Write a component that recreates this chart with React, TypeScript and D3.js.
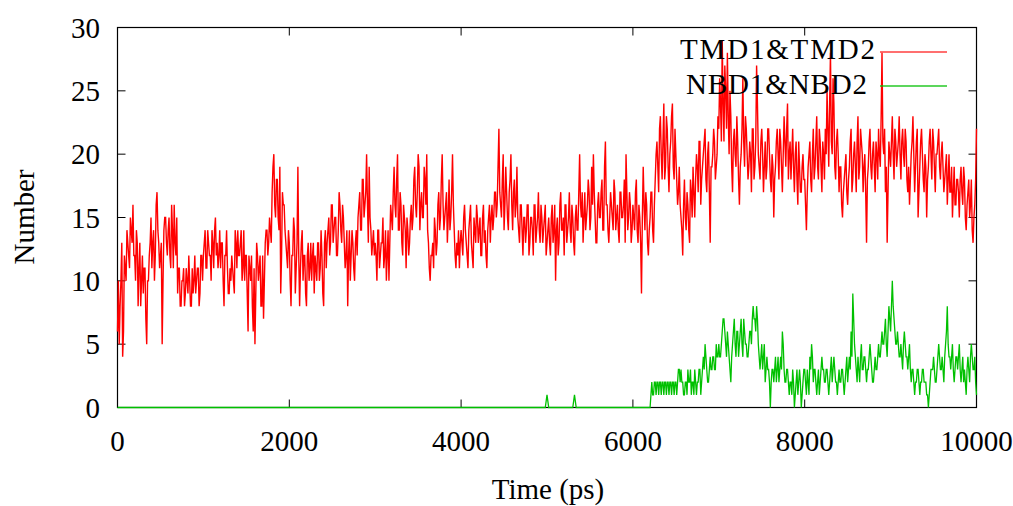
import React from "react";
import * as d3 from "d3";

const xTicks = [0, 2000, 4000, 6000, 8000, 10000];
const yTicks = [0, 5, 10, 15, 20, 25, 30];
const seriesNames = ["TMD1&TMD2", "NBD1&NBD2"];
const seriesColors = ["#ff0000", "#00c000"];
const STEP = 20;
const HALF = 10;

// TMD1&TMD2: values at t = 1000k + 20i (blocks of 1000 ps)
const tmd0 = [6,5,10,4,12,10,13,11,14,16,12,14,8,13,10,9,11,5,10,13,11,14,12,17,13,12,5,14,15,12,15,11,14,16,12,9,11,8,10,8,11,9,10,8,9,12,10,11,9,12];
const tmd1 = [12,14,11,13,12,14,11,15,13,12,11,13,8,12,11,9,10,11,9,13,14,12,14,11,10,12,6,11,12,6,5,13,10,12,8,7,13,14,13,14,17,20,15,18,14,9,17,16,13,11];
const tmd2 = [13,8,12,14,11,19,8,13,10,12,8,13,11,10,13,12,10,13,11,12,8,14,13,15,13,16,14,15,12,17,14,16,13,12,8,14,12,13,10,14,15,17,14,18,16,20,13,15,12,14];
const tmd3 = [13,10,14,12,13,11,14,12,10,16,14,19,15,20,14,16,12,15,11,14,13,16,15,19,15,20,14,17,15,18,20,13,10,12,11,14,13,17,15,20,14,16,13,18,15,20,14,11,12,11];
const tmd4 = [14,12,16,13,11,15,13,11,14,16,13,15,12,16,14,11,15,13,16,15,17,16,22,16,18,14,19,15,17,20,14,18,16,15,13,16,12,15,14,16,13,15,12,16,14,17,13,15,14,16];
const tmd5 = [13,15,12,16,14,10,15,13,17,14,12,16,14,17,13,15,12,16,14,20,15,13,17,15,18,14,19,20,15,13,17,15,18,14,21,16,13,17,15,18,14,16,13,17,15,18,20,14,17,13];
const tmd6 = [16,14,18,13,15,9,19,14,16,12,15,17,13,18,21,17,23,18,24,19,22,17,21,24,18,20,16,19,15,12,18,14,16,13,17,19,15,20,17,21,18,20,22,17,21,13,19,22,18,20];
const tmd7 = [22,24,29,21,25,28,20,23,17,22,19,21,16,20,26,19,22,18,21,17,22,19,27,20,18,22,17,21,19,22,18,20,15,19,22,18,21,17,23,19,24,20,18,22,17,21,16,19,17,20];
const tmd8 = [18,14,19,21,17,22,19,23,18,21,17,20,22,25,19,28,20,24,18,22,17,19,15,18,20,16,19,22,18,21,17,23,19,21,17,20,13,19,22,18,21,17,20,22,19,28,20,17,13,21];
const tmd9 = [19,23,18,21,20,23,18,22,19,21,17,16,20,23,17,21,15,19,22,18,20,15,19,22,18,21,17,20,22,18,21,17,19,16,20,17,15,19,16,18,15,19,16,18,14,17,15,18,13,16];
// TMD1&TMD2: values at t = 1000k + 10 + 20i
const tmdMid0 = [10,8,13,6,11,14,12,15,13,12,10,13,11,8,12,11,7,10,12,15,13,10,16,14,11,13,10,15,13,14,12,16,11,13,15,11,8,10,11,9,10,12,8,11,10,9,11,8,12,10];
const tmdMid1 = [13,11,14,12,10,13,14,12,11,14,13,10,12,14,9,11,12,10,14,11,12,13,10,14,12,9,12,10,8,11,9,12,11,8,12,10,14,12,15,13,19,16,18,15,19,12,16,14,12,14];
const tmdMid2 = [10,12,15,9,13,12,11,14,12,9,12,10,13,12,9,11,13,10,14,9,13,11,14,12,16,13,15,12,14,16,13,15,11,14,12,10,14,11,13,12,16,14,18,15,17,16,19,14,13,12];
const tmdMid3 = [12,14,11,13,15,12,10,14,13,15,17,16,18,14,17,13,16,14,15,12,15,14,18,16,17,19,16,15,19,16,14,11,12,13,15,12,16,14,18,16,15,17,15,14,17,16,12,13,14,13];
const tmdMid4 = [13,15,14,12,14,16,12,15,13,15,14,12,15,13,12,14,16,15,14,17,15,19,17,15,20,16,17,14,18,16,17,15,19,14,16,14,15,13,16,12,15,14,16,13,15,14,16,13,15,12];
const tmdMid5 = [14,13,15,13,16,14,12,16,14,15,16,13,15,14,16,13,15,14,17,16,17,15,14,16,17,15,16,17,13,16,15,17,14,19,16,14,15,16,14,17,15,14,17,15,16,13,17,15,16,14];
const tmdMid6 = [15,17,14,16,13,15,16,17,13,14,17,14,16,20,19,22,20,21,18,23,19,20,23,19,22,18,17,16,14,16,15,17,14,18,15,17,18,19,21,16,19,21,18,20,17,19,20,21,19,23];
const tmdMid7 = [26,21,24,27,22,23,25,19,21,20,23,18,19,22,21,23,20,19,20,22,18,21,24,19,21,20,19,18,22,20,17,19,18,21,20,22,19,20,21,22,18,21,20,19,20,18,21,17,19,18];
const tmdMid8 = [16,17,20,18,20,18,21,19,22,19,21,18,20,22,24,21,26,19,21,20,19,16,17,19,17,18,21,17,20,19,21,18,22,20,19,17,18,21,19,20,19,21,18,20,23,21,22,19,17,20];
const tmdMid9 = [21,20,22,19,21,20,21,20,22,18,19,18,21,20,19,22,17,21,20,17,19,18,21,20,22,19,20,21,19,20,19,18,20,18,17,19,17,16,18,17,18,17,19,15,16,18,16,14,15,18];
const tmdLast = 22; // at 10000 ps

// NBD1&NBD2: sparse early part, then values every 20 ps from 6220 ps (+ half-step values)
const nbdEarlyTimes = [0, 4980, 5000, 5020, 5300, 5320, 5340, 6200];
const nbdEarlyValues = [0, 0, 1, 0, 0, 1, 0, 0];
const nbdLateStart = 6220;
const nbdLate = [
  2,1,2,2,1,2,2,1,2,2,
  1,2,2,1,2,2,3,3,2,1,
  2,3,2,1,2,3,1,2,3,2,
  4,5,3,2,4,3,4,3,4,5,
  4,6,7,5,6,4,2,5,7,4,
  6,5,7,4,6,5,4,6,5,8,
  7,8,5,3,5,4,2,4,3,0,
  3,2,4,3,2,4,6,3,2,3,
  1,2,3,0,2,1,3,0,2,3,
  1,2,4,5,2,3,1,3,2,4,
  3,2,3,1,3,2,4,2,1,3,
  2,3,1,3,2,4,6,9,5,3,
  4,2,5,3,4,2,3,5,3,2,
  4,3,5,4,6,5,7,4,8,6,
  10,7,5,6,4,5,3,6,4,3,
  5,2,3,1,2,3,1,2,3,2,
  1,0,2,3,4,2,3,5,3,4,
  2,5,8,4,3,5,2,4,3,5,
  2,4,3,1,4,2,5,3,4,1
];
const nbdLateMid = [
  1,2,1,2,2,1,2,2,1,2,
  2,1,2,2,1,3,2,2,1,2,
  1,2,3,2,1,2,2,3,1,3,
  3,4,2,3,3,4,3,5,4,4,
  5,7,6,4,5,3,4,6,5,6,
  4,6,5,7,5,4,5,6,7,7,
  6,7,4,4,3,5,3,3,2,2,
  3,3,2,4,3,3,5,2,3,2,
  2,1,2,1,3,2,2,1,3,2,
  3,1,3,4,3,2,2,1,3,3,
  2,3,2,2,4,3,3,2,2,2,
  3,2,2,4,3,3,4,7,4,2,
  3,4,3,4,3,3,4,4,2,3,
  3,4,4,5,5,6,5,6,7,8,
  8,6,5,5,4,4,5,5,4,4,
  3,3,2,2,3,2,2,3,2,2,
  1,1,3,3,3,2,4,4,3,3,
  4,6,5,4,4,3,3,4,4,3,
  3,2,2,3,3,4,4,3,2
];

const FONT = "'Liberation Serif', 'Times New Roman', serif";

export default function App() {
  const W = 1013, H = 506;
  const L = 117.5, R = 976.5, T = 27.5, B = 407.5;
  const x = d3.scaleLinear().domain([0, 10000]).range([L, R]);
  const y = d3.scaleLinear().domain([0, 30]).range([B, T]);

  const main = [...tmd0, ...tmd1, ...tmd2, ...tmd3, ...tmd4, ...tmd5, ...tmd6, ...tmd7, ...tmd8, ...tmd9];
  const mid = [...tmdMid0, ...tmdMid1, ...tmdMid2, ...tmdMid3, ...tmdMid4, ...tmdMid5, ...tmdMid6, ...tmdMid7, ...tmdMid8, ...tmdMid9];
  const tmd: [number, number][] = [];
  main.forEach((v, i) => {
    tmd.push([i * STEP, v]);
    tmd.push([i * STEP + HALF, mid[i]]);
  });
  tmd.push([10000, tmdLast]);

  const nbd: [number, number][] = nbdEarlyTimes.map((t, i) => [t, nbdEarlyValues[i]] as [number, number]);
  nbdLate.forEach((v, i) => {
    nbd.push([nbdLateStart + i * STEP, v]);
    if (i < nbdLateMid.length) nbd.push([nbdLateStart + i * STEP + HALF, nbdLateMid[i]]);
  });

  const line = d3.line<[number, number]>().x(d => x(d[0])).y(d => y(d[1]));
  const tick = 8;

  return (
    <svg width={W} height={H} style={{ position: "fixed", left: 0, top: 0, background: "#fff" }}
      fontFamily={FONT}>
      <rect x={0} y={0} width={W} height={H} fill="#fff" />
      {yTicks.map(v => (
        <g key={"y" + v}>
          <line x1={L} x2={L + tick} y1={y(v)} y2={y(v)} stroke="#000" strokeWidth={1} />
          <line x1={R} x2={R - tick} y1={y(v)} y2={y(v)} stroke="#000" strokeWidth={1} />
          <text x={100} y={y(v) + 10} textAnchor="end" fontSize={29}>{v}</text>
        </g>
      ))}
      {xTicks.map(v => (
        <g key={"x" + v}>
          <line x1={x(v)} x2={x(v)} y1={B} y2={B - tick} stroke="#000" strokeWidth={1} />
          <line x1={x(v)} x2={x(v)} y1={T} y2={T + tick} stroke="#000" strokeWidth={1} />
          <text x={x(v)} y={451} textAnchor="middle" fontSize={29}>{v}</text>
        </g>
      ))}
      <rect x={L} y={T} width={R - L} height={B - T} fill="none" stroke="#000" strokeWidth={1.2} />
      <path d={line(tmd) || ""} fill="none" stroke={seriesColors[0]} strokeWidth={1.4} />
      <path d={line(nbd) || ""} fill="none" stroke={seriesColors[1]} strokeWidth={1.3} />
      <text x={680} y={59} fontSize={29} textLength={195} lengthAdjust="spacing">{seriesNames[0]}</text>
      <line x1={880} x2={947} y1={52} y2={52} stroke={seriesColors[0]} strokeWidth={1.5} opacity={0.75} />
      <text x={686} y={94} fontSize={29} textLength={181} lengthAdjust="spacing">{seriesNames[1]}</text>
      <line x1={880} x2={947} y1={86} y2={86} stroke={seriesColors[1]} strokeWidth={1.5} opacity={0.85} />
      <text x={548} y={499} textAnchor="middle" fontSize={29}>Time (ps)</text>
      <text transform={`translate(34,217) rotate(-90)`} textAnchor="middle" fontSize={29}>Number</text>
    </svg>
  );
}
